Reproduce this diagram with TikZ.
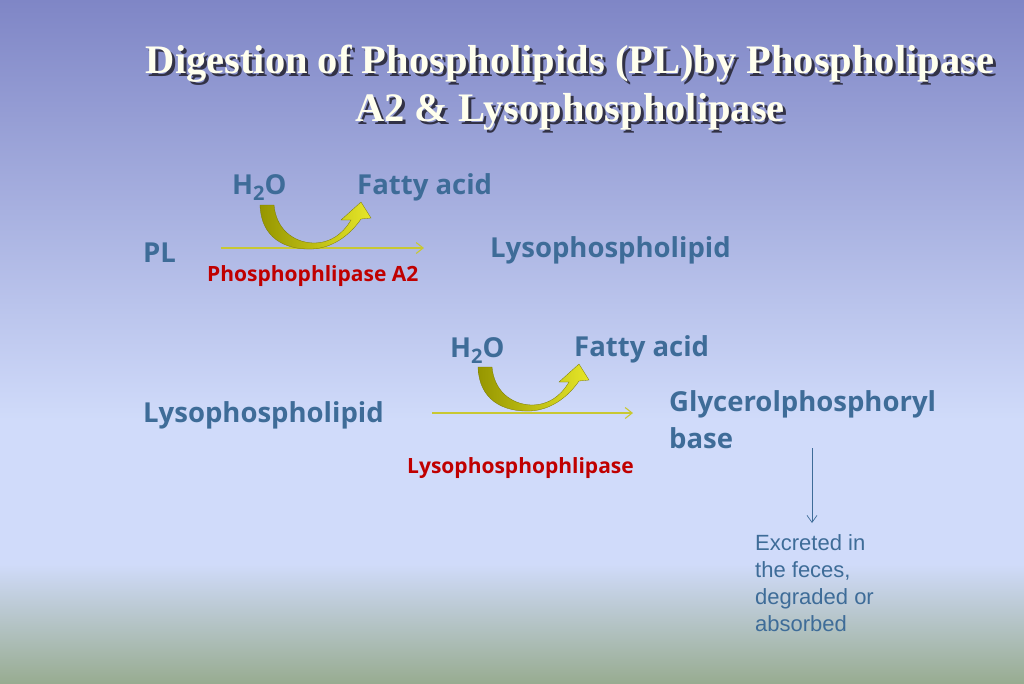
\documentclass[tikz,border=0pt]{standalone}
\usepackage{fontspec}
\setmainfont{Liberation Serif}
\newfontfamily\gillfont{Open Sans}
\newfontfamily\arialfont{Liberation Sans}
\usetikzlibrary{arrows.meta}

\definecolor{bgtop}{RGB}{127,134,198}
\definecolor{bgmid}{RGB}{208,219,250}
\definecolor{bgbot}{RGB}{152,172,145}
\definecolor{chemblue}{RGB}{62,108,152}
\definecolor{enzred}{RGB}{192,0,0}
\definecolor{rxnline}{RGB}{200,200,50}
\definecolor{arrowdark}{RGB}{150,150,0}
\definecolor{arrowlight}{RGB}{230,230,40}
\definecolor{titlewhite}{RGB}{255,255,238}
\definecolor{titleshadow}{RGB}{50,50,70}

\tikzset{
  title/.style={font=\fontsize{40.5}{48}\selectfont\bfseries, align=center, inner sep=0pt},
  chem/.style={font=\gillfont\fontsize{27.5}{32}\selectfont\bfseries, text=chemblue, inner sep=0pt, anchor=west},
  enzyme/.style={font=\gillfont\fontsize{21}{24}\selectfont\bfseries, text=enzred, inner sep=0pt, anchor=west},
  note/.style={font=\arialfont\fontsize{22}{27}\selectfont, text=chemblue, align=left, inner sep=0pt, anchor=north west},
  rxn/.style={rxnline, line width=1.1pt, -{Straight Barb[length=7pt,width=11pt]}},
  fate/.style={chemblue, line width=0.7pt, -{Straight Barb[length=7pt,width=10pt]}}
}

%% curved block arrow for water in / fatty acid out
\newcommand{\wateraction}[1]{%
  \begin{scope}[shift={#1}]
    \shade[left color=arrowdark, right color=arrowlight, draw=arrowdark!80!black, line width=0.3pt]
      (0,0) .. controls (1,33) and (25,45) .. (52,44)
      .. controls (73,43) and (90,30) .. (101,14) -- (111,13) -- (101,-3) -- (81,15) -- (91,15)
      .. controls (82,30) and (70,38) .. (53,38)
      .. controls (32,37) and (16,23) .. (14,0) -- cycle;
  \end{scope}}

\newcommand{\water}{H\raisebox{-6pt}{\fontsize{20}{20}\selectfont 2}O}

\begin{document}
\begin{tikzpicture}[x=1pt,y=-1pt]
  \useasboundingbox (0,0) rectangle (1024,683);
  %% background
  \shade[top color=bgtop, bottom color=bgmid] (0,0) rectangle (1024,420);
  \fill[bgmid] (0,419) rectangle (1024,565);
  \shade[top color=bgmid, bottom color=bgbot] (0,564) rectangle (1024,683);

  %% title with shadow
  \node[title, text=titleshadow] at (573,91) {Digestion of Phospholipids (PL)by Phospholipase\\A2 \& Lysophospholipase};
  \node[title, text=titlewhite] (title) at (570,88) {Digestion of Phospholipids (PL)by Phospholipase\\A2 \& Lysophospholipase};

  %% first step
  \node[chem] (pl) at (143,253) {PL};
  \node[chem] (wa) at (232,188) {\water};
  \node[chem] (fa) at (357,187) {Fatty acid};
  \node[chem] (lyso) at (490,250) {Lysophospholipid};
  \node[enzyme] (pla) at (207,276) {Phosphophlipase A2};
  \coordinate (ra) at (221,248);
  \coordinate (rb) at (424,248);
  \draw[rxn] (ra) -- (rb);
  \wateraction{(260,205)}

  %% second step
  \node[chem] (lysob) at (143,415) {Lysophospholipid};
  \node[chem] (wb) at (450,351) {\water};
  \node[chem] (fb) at (574,349) {Fatty acid};
  \node[chem] (gpb) at (669,404) {Glycerolphosphoryl};
  \node[chem] (base) at (669,438) {base};
  \node[enzyme] (lpl) at (407,468) {Lysophosphophlipase};
  \coordinate (rc) at (432,413);
  \coordinate (rd) at (633,413);
  \draw[rxn] (rc) -- (rd);
  \wateraction{(478,367)}

  %% fate of the base
  \node[note] (fate) at (755,534) {Excreted in\\the feces,\\degraded or\\absorbed};
  \coordinate (fs) at (812,448);
  \coordinate (fe) at (812,523);
  \draw[fate] (fs) -- (fe);
\end{tikzpicture}
\end{document}
